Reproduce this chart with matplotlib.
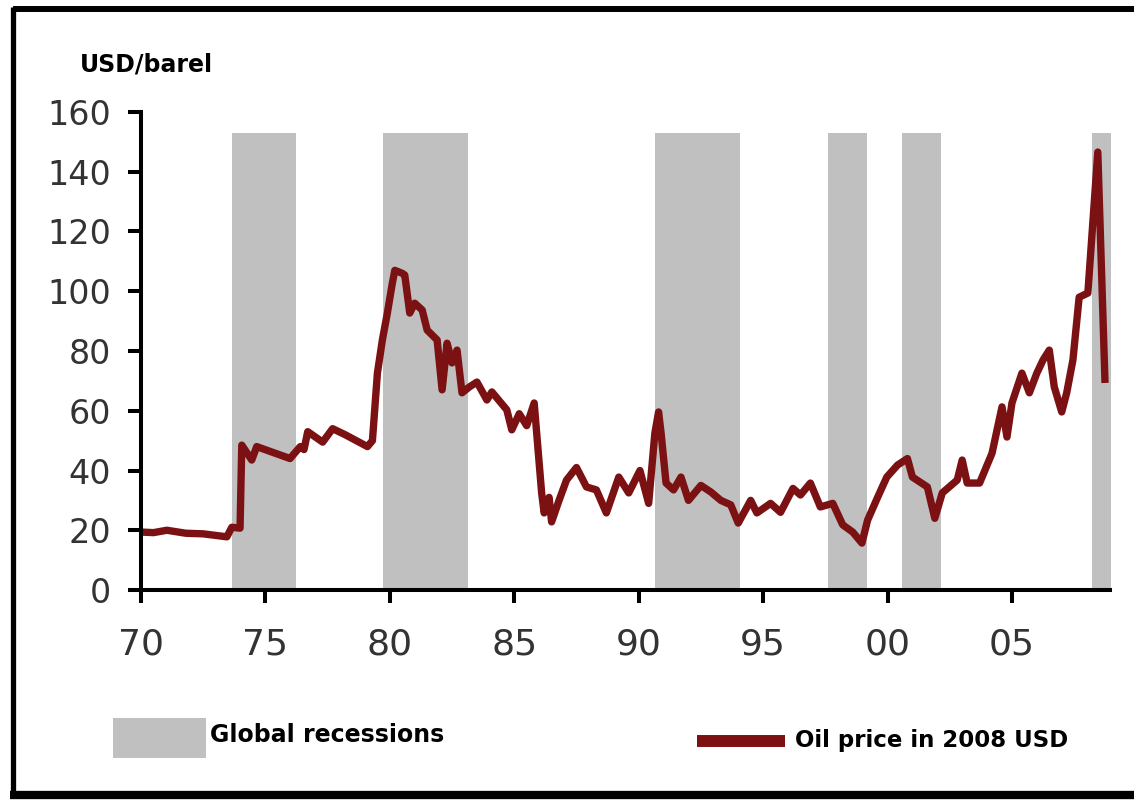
import matplotlib
matplotlib.use("Agg")
import matplotlib.pyplot as plt
from matplotlib.lines import Line2D
from matplotlib.patches import Rectangle

# ---- data ----
years = [1970.00, 1970.5, 1971.04, 1971.8, 1972.5, 1973.45, 1973.65, 1973.98,
         1974.05, 1974.45, 1974.65, 1975.99, 1976.4, 1976.55, 1976.7, 1977.3,
         1977.7, 1978.2, 1979.1, 1979.3, 1979.5, 1979.7, 1979.9, 1980.1,
         1980.2, 1980.5, 1980.6, 1980.8, 1981.0, 1981.3, 1981.5, 1981.9,
         1982.1, 1982.3, 1982.5, 1982.7, 1982.9, 1983.2, 1983.5, 1983.9,
         1984.1, 1984.7, 1984.9, 1985.2, 1985.5, 1985.8, 1986.1, 1986.2,
         1986.4, 1986.5, 1986.8, 1987.1, 1987.5, 1987.9, 1988.3, 1988.7,
         1989.2, 1989.6, 1990.05, 1990.4, 1990.65, 1990.8, 1990.9, 1991.1,
         1991.4, 1991.7, 1992.0, 1992.5, 1992.9, 1993.3, 1993.7, 1994.0,
         1994.5, 1994.75, 1995.3, 1995.7, 1996.2, 1996.5, 1996.9, 1997.3,
         1997.8, 1998.2, 1998.6, 1998.97, 1999.2, 1999.6, 1999.97, 2000.4,
         2000.8, 2001.0, 2001.6, 2001.9, 2002.2, 2002.8, 2003.0, 2003.2,
         2003.7, 2004.2, 2004.6, 2004.8, 2005.0, 2005.4, 2005.7, 2006.0,
         2006.25, 2006.5, 2006.7, 2007.0, 2007.2, 2007.45, 2007.7, 2008.05,
         2008.45, 2008.55, 2008.74]
oil_price = [19.4, 19.2, 20.0, 19.0, 18.8, 17.8, 21.0, 20.7,
             48.5, 43.5, 48.0, 44.0, 48.0, 47.0, 53.0, 49.5,
             54.0, 52.0, 48.0, 50.0, 72.6, 83.7, 92.7, 102.7,
             107.0, 106.0, 105.4, 92.7, 96.0, 93.7, 87.0, 83.7,
             67.0, 82.6, 76.0, 80.3, 66.0, 68.0, 69.6, 63.6,
             66.3, 60.3, 53.6, 59.0, 55.0, 62.6, 32.5, 25.8,
             31.0, 22.8, 30.0, 36.8, 41.0, 34.5, 33.5, 25.8,
             37.8, 32.5, 40.0, 29.0, 52.5, 59.6, 52.5, 35.8,
             33.5, 37.8, 30.0, 35.0, 32.8, 30.0, 28.5, 22.4,
             30.0, 25.8, 29.0, 26.0, 34.0, 31.8, 35.8, 27.8,
             29.0, 21.8, 19.4, 15.7, 23.4, 31.0, 37.8, 41.8,
             44.0, 37.8, 34.5, 24.0, 32.5, 36.8, 43.5, 35.8,
             35.8, 45.8, 61.3, 51.2, 62.6, 72.6, 66.0, 72.6,
             77.0, 80.3, 68.0, 59.6, 66.0, 77.0, 98.0, 99.4,
             146.6, 120.0, 69.3]

recession_start = [1973.66, 1979.72, 1990.65, 1997.60, 2000.58, 2008.20]
recession_end = [1976.23, 1983.14, 1994.07, 1999.17, 2002.15, 2009.00]
recession_top = 153

x_ticks = [1970, 1975, 1980, 1985, 1990, 1995, 2000, 2005]
x_ticklabels = ["70", "75", "80", "85", "90", "95", "00", "05"]
y_ticks = [0, 20, 40, 60, 80, 100, 120, 140, 160]

LINE_COLOR = "#7b1113"
BAND_COLOR = "#c0c0c0"
TICK_COLOR = "#333333"

W, H = 1134, 800
fig = plt.figure(figsize=(W / 100, H / 100), dpi=100)
fig.patch.set_facecolor("white")

ax = fig.add_axes([141 / W, 1 - 590 / H, (1110 - 141) / W, (590 - 112) / H])
ax.set_facecolor("none")

for s, e in zip(recession_start, recession_end):
    ax.bar(s, recession_top, width=e - s, align="edge", color=BAND_COLOR,
           edgecolor="none", zorder=1, clip_on=False)

ax.plot(years, oil_price, color=LINE_COLOR, lw=5.3, solid_joinstyle="round",
        solid_capstyle="butt", zorder=3)

ax.set_xlim(1970, 2008.94)
ax.set_ylim(0, 160)
ax.set_xticks(x_ticks)
ax.set_xticklabels(x_ticklabels)
ax.set_yticks(y_ticks)

for side in ("top", "right"):
    ax.spines[side].set_visible(False)
for side in ("left", "bottom"):
    ax.spines[side].set_linewidth(2.9)
    ax.spines[side].set_color("black")
    ax.spines[side].set_zorder(4)

ax.tick_params(axis="y", direction="out", length=9.4, width=2.9,
               colors="black", labelcolor=TICK_COLOR, labelsize=24, pad=12)
ax.tick_params(axis="x", direction="out", length=9.0, width=2.9,
               colors="black", labelcolor=TICK_COLOR, labelsize=26, pad=18)

# y unit label
fig.text(80 / W, 1 - 71 / H, "USD/barel", fontsize=17, fontweight="bold",
         color="black", ha="left", va="baseline")

# legend: recessions
fig.add_artist(Rectangle((113 / W, 1 - 758 / H), (206 - 113) / W, (758 - 718) / H,
                         transform=fig.transFigure, facecolor=BAND_COLOR,
                         edgecolor="none"))
fig.text(210 / W, 1 - 742 / H, "Global recessions", fontsize=17,
         fontweight="bold", color="black", ha="left", va="baseline")

# legend: oil price
fig.add_artist(Line2D([697 / W, 785 / W], [1 - 741 / H, 1 - 741 / H],
                      transform=fig.transFigure, color=LINE_COLOR, lw=8.6,
                      solid_capstyle="butt"))
fig.text(795 / W, 1 - 747 / H, "Oil price in 2008 USD", fontsize=16.5,
         fontweight="bold", color="black", ha="left", va="baseline")

# outer frame
fig.add_artist(Line2D([12.5 / W, 1.0], [1 - 9 / H, 1 - 9 / H],
                      transform=fig.transFigure, color="black", lw=4.3,
                      solid_capstyle="butt"))
fig.add_artist(Line2D([12.5 / W, 12.5 / W], [1 - 7 / H, 1 - 797 / H],
                      transform=fig.transFigure, color="black", lw=3.8,
                      solid_capstyle="butt"))
fig.add_artist(Line2D([10 / W, 1.0], [1 - 795 / H, 1 - 795 / H],
                      transform=fig.transFigure, color="black", lw=6.0,
                      solid_capstyle="butt"))

fig.savefig("out.png", dpi=100)
